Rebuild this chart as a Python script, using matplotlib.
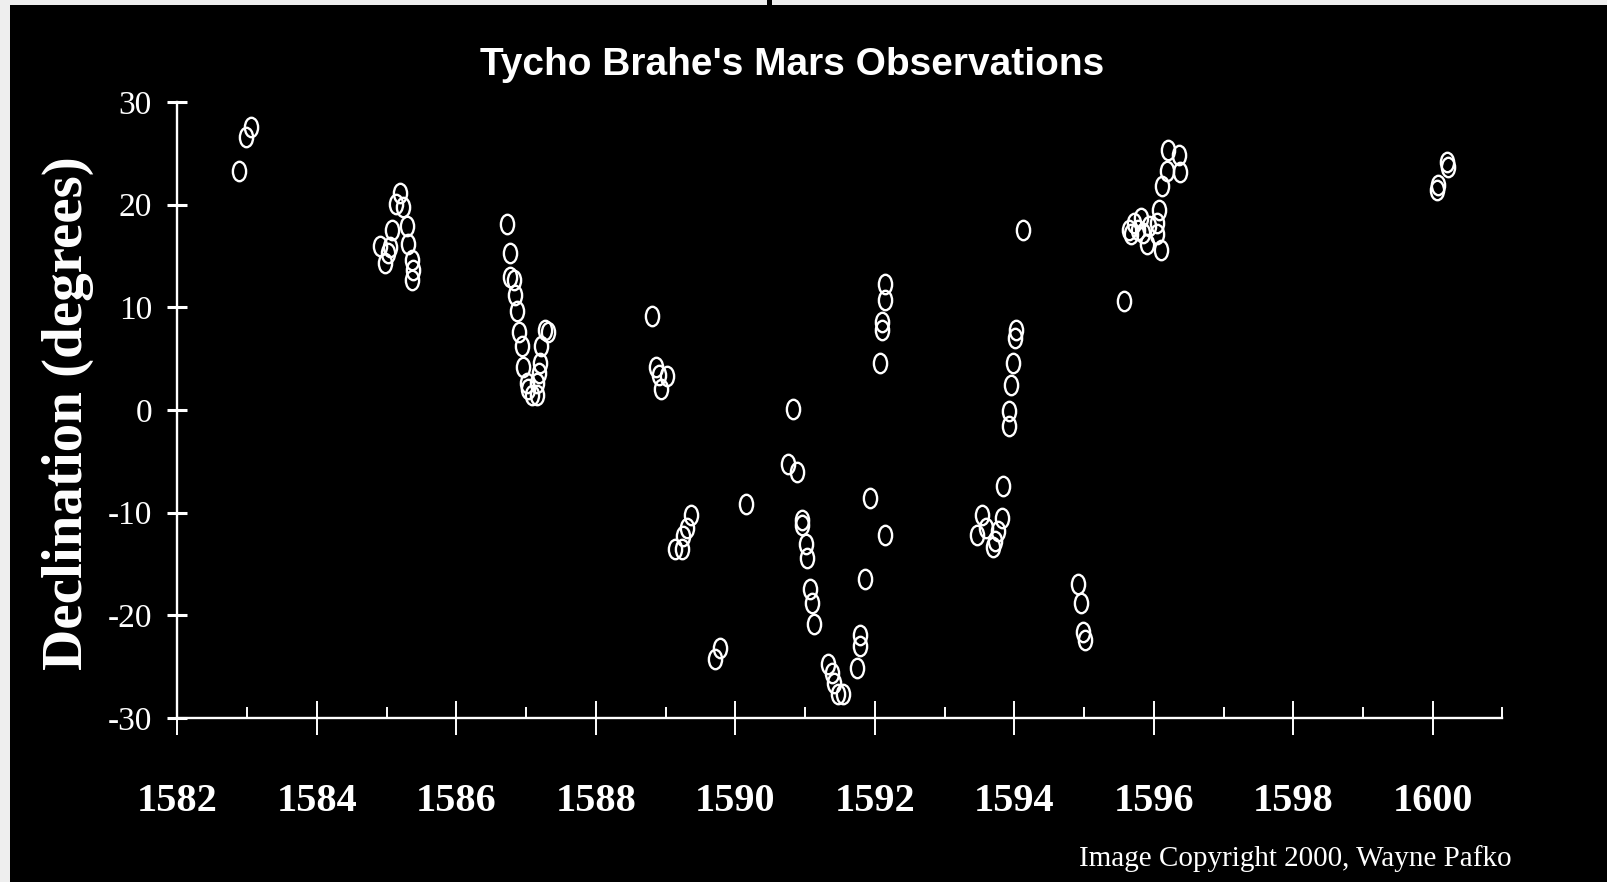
import matplotlib
matplotlib.use("Agg")
import matplotlib.pyplot as plt
from matplotlib import font_manager
from matplotlib.path import Path
from matplotlib.transforms import Affine2D
from matplotlib.patches import Rectangle
from matplotlib.ticker import MultipleLocator

# Mars declination readings, grouped by opposition
years = [
    1582.88, 1582.98, 1583.05,
    1584.90, 1584.98, 1585.02, 1585.05, 1585.07, 1585.13, 1585.19, 1585.24,
    1585.29, 1585.30, 1585.36, 1585.38, 1585.37,
    1586.73, 1586.77, 1586.77, 1586.83, 1586.84, 1586.87, 1586.90, 1586.94,
    1586.96, 1587.01, 1587.03, 1587.08, 1587.15, 1587.15, 1587.18, 1587.20,
    1587.22, 1587.27, 1587.32,
    1588.81, 1588.86, 1588.90, 1588.94, 1589.02,
    1589.13, 1589.23, 1589.25, 1589.30, 1589.36,
    1589.71, 1589.78,
    1590.16,
    1590.76, 1590.82, 1590.89,
    1590.96, 1590.96, 1591.01, 1591.03, 1591.07, 1591.10, 1591.13,
    1591.33, 1591.38, 1591.41, 1591.47, 1591.55,
    1591.74, 1591.79, 1591.79, 1591.86, 1591.93, 1592.15,
    1592.07, 1592.11, 1592.11, 1592.15, 1592.15,
    1593.46, 1593.53, 1593.60, 1593.70, 1593.72, 1593.77, 1593.82, 1593.84,
    1593.92, 1593.92, 1593.95, 1593.98, 1594.01, 1594.02, 1594.12,
    1594.92, 1594.95, 1594.99, 1595.01,
    1595.58,
    1595.64, 1595.68, 1595.71, 1595.78, 1595.81, 1595.85, 1595.90, 1595.93,
    1596.05, 1596.05, 1596.07, 1596.11, 1596.12, 1596.19, 1596.20, 1596.36,
    1596.38,
    1600.06, 1600.08, 1600.20, 1600.22,
]
declination = [
    23.3, 26.6, 27.6,
    16.0, 14.3, 15.3, 15.9, 17.5, 20.1, 21.1, 19.8,
    17.9, 16.2, 14.6, 13.6, 12.7,
    18.1, 15.3, 13.0, 12.7, 11.2, 9.6, 7.6, 6.2,
    4.2, 2.6, 2.0, 1.5, 1.5, 2.6, 3.6, 4.6,
    6.2, 7.8, 7.6,
    9.2, 4.2, 3.4, 2.0, 3.3,
    -13.5, -13.5, -12.3, -11.5, -10.2,
    -24.3, -23.2,
    -9.2,
    -5.3, 0.1, -6.0,
    -10.7, -11.2, -13.1, -14.4, -17.4, -18.8, -20.8,
    -24.7, -25.6, -26.6, -27.7, -27.7,
    -25.1, -23.0, -21.9, -16.5, -8.6, -12.2,
    4.6, 7.8, 8.6, 10.7, 12.3,
    -12.2, -10.2, -11.5, -13.3, -12.8, -11.8, -10.5, -7.4,
    -1.6, -0.1, 2.4, 4.6, 7.0, 7.8, 17.5,
    -16.9, -18.8, -21.6, -22.4,
    10.6,
    17.5, 17.1, 18.2, 17.5, 18.7, 17.2, 16.2, 17.9,
    17.1, 18.2, 19.5, 15.6, 21.8, 23.3, 25.3, 24.8,
    23.2,
    21.4, 21.9, 24.2, 23.7,
]

year_ticks = list(range(1582, 1601, 2))
dec_ticks = [-30, -20, -10, 0, 10, 20, 30]

installed = {f.name for f in font_manager.fontManager.ttflist}


def pick_font(*names):
    for n in names:
        if n in installed:
            return n
    return names[-1]


sans_narrow = pick_font("Liberation Sans Narrow", "DejaVu Sans Condensed", "Liberation Sans")
serif = pick_font("Liberation Serif", "DejaVu Serif")
plt.rcParams["axes.unicode_minus"] = False

W, H = 1608, 882
fig = plt.figure(figsize=(W / 100, H / 100), dpi=100, facecolor="#eeeeee")
# black panel with the thin grey page edge along top and left
fig.patches.append(Rectangle((10 / W, 0), 1 - 10 / W, 1 - 5 / H, transform=fig.transFigure,
                             facecolor="black", edgecolor="none", zorder=-5))
fig.patches.append(Rectangle((767 / W, 1 - 5 / H), 5 / W, 5 / H, transform=fig.transFigure,
                             facecolor="black", edgecolor="none", zorder=-5))

x0, x1, y0, y1 = 177.4, 1502.5, 102, 718
ax = fig.add_axes([x0 / W, 1 - y1 / H, (x1 - x0) / W, (y1 - y0) / H])
ax.set_facecolor("none")

# open ellipses, the way the old plot drew its circles
ellipse = Affine2D().scale(0.68, 1.0).transform_path(Path.unit_circle())
ax.plot(years, declination, linestyle="none", marker=ellipse, markersize=14,
        markerfacecolor="none", markeredgecolor="white", markeredgewidth=1.7, clip_on=False)

ax.set_xlim(1582, 1601)
ax.set_ylim(-30, 30)
for side in ("top", "right"):
    ax.spines[side].set_visible(False)
for side in ("left", "bottom"):
    ax.spines[side].set_color("white")
    ax.spines[side].set_linewidth(1.7)

ax.set_xticks(year_ticks)
ax.xaxis.set_minor_locator(MultipleLocator(1))
ax.set_yticks(dec_ticks)
ax.tick_params(axis="x", which="major", direction="inout", length=25, width=1.4,
               color="white", pad=34, labelcolor="white", labelsize=29)
ax.tick_params(axis="x", which="minor", direction="in", length=8, width=1.4, color="white")
ax.tick_params(axis="y", which="major", direction="inout", length=14.5, width=2.2,
               color="white", pad=11, labelcolor="white", labelsize=24)
for lab in ax.get_xticklabels():
    lab.set_fontfamily(serif)
    lab.set_fontweight("bold")
for lab in ax.get_yticklabels():
    lab.set_fontfamily(serif)

ax.set_ylabel("Declination (degrees)", family=serif, fontweight="bold", fontsize=41,
              color="white", va="center")
ax.yaxis.set_label_coords(-0.083, 0.495)

fig.text(792 / W, 1 - 75 / H, "Tycho Brahe's Mars Observations", family=sans_narrow,
         fontweight="bold", fontsize=28, color="white", ha="center", va="baseline")
fig.text(1512 / W, 1 - 866 / H, "Image Copyright 2000, Wayne Pafko", family=serif,
         fontsize=21, color="white", ha="right", va="baseline")

fig.savefig("out.png", dpi=100, facecolor=fig.get_facecolor())
